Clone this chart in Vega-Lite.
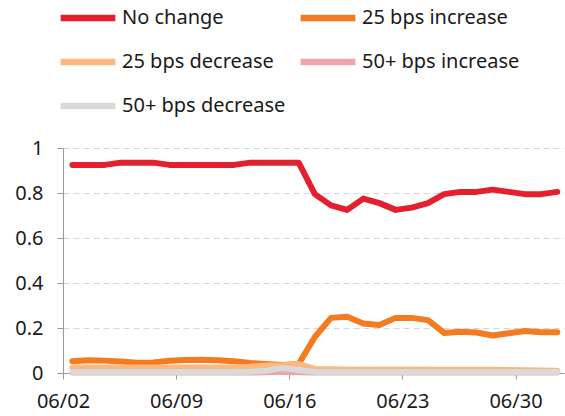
{
  "$schema": "https://vega.github.io/schema/vega-lite/v6.json",
  "autosize": {"type": "none"},
  "width": 501,
  "height": 225,
  "padding": {"left": 63, "top": 148, "right": 1, "bottom": 43},
  "background": "white",
  "config": {
    "view": {"stroke": null},
    "font": "Noto Sans",
    "axis": {"labelFont": "Noto Sans", "labelFontSize": 20, "labelColor": "#1a1a1a", "domainColor": "#999999", "tickColor": "#999999", "title": null},
    "legend": {"labelFont": "Noto Sans", "labelFontSize": 20, "labelColor": "#1a1a1a"}
  },
  "data": {"values": [
    {"date": "2024-06-02T14:00", "No change": 0.925, "25 bps increase": 0.052, "25 bps decrease": 0.024, "50+ bps increase": 0.002, "50+ bps decrease": 0.005},
    {"date": "2024-06-03T14:00", "No change": 0.925, "25 bps increase": 0.057, "25 bps decrease": 0.024, "50+ bps increase": 0.002, "50+ bps decrease": 0.005},
    {"date": "2024-06-04T14:00", "No change": 0.925, "25 bps increase": 0.055, "25 bps decrease": 0.024, "50+ bps increase": 0.002, "50+ bps decrease": 0.005},
    {"date": "2024-06-05T14:00", "No change": 0.935, "25 bps increase": 0.051, "25 bps decrease": 0.024, "50+ bps increase": 0.002, "50+ bps decrease": 0.005},
    {"date": "2024-06-06T14:00", "No change": 0.935, "25 bps increase": 0.046, "25 bps decrease": 0.024, "50+ bps increase": 0.002, "50+ bps decrease": 0.005},
    {"date": "2024-06-07T14:00", "No change": 0.935, "25 bps increase": 0.047, "25 bps decrease": 0.024, "50+ bps increase": 0.002, "50+ bps decrease": 0.005},
    {"date": "2024-06-08T14:00", "No change": 0.925, "25 bps increase": 0.054, "25 bps decrease": 0.024, "50+ bps increase": 0.002, "50+ bps decrease": 0.005},
    {"date": "2024-06-09T14:00", "No change": 0.925, "25 bps increase": 0.058, "25 bps decrease": 0.024, "50+ bps increase": 0.002, "50+ bps decrease": 0.005},
    {"date": "2024-06-10T14:00", "No change": 0.925, "25 bps increase": 0.059, "25 bps decrease": 0.024, "50+ bps increase": 0.002, "50+ bps decrease": 0.005},
    {"date": "2024-06-11T14:00", "No change": 0.925, "25 bps increase": 0.057, "25 bps decrease": 0.024, "50+ bps increase": 0.002, "50+ bps decrease": 0.005},
    {"date": "2024-06-12T14:00", "No change": 0.925, "25 bps increase": 0.052, "25 bps decrease": 0.025, "50+ bps increase": 0.002, "50+ bps decrease": 0.005},
    {"date": "2024-06-13T14:00", "No change": 0.935, "25 bps increase": 0.045, "25 bps decrease": 0.028, "50+ bps increase": 0.002, "50+ bps decrease": 0.006},
    {"date": "2024-06-14T14:00", "No change": 0.935, "25 bps increase": 0.040, "25 bps decrease": 0.033, "50+ bps increase": 0.003, "50+ bps decrease": 0.010},
    {"date": "2024-06-15T14:00", "No change": 0.935, "25 bps increase": 0.036, "25 bps decrease": 0.035, "50+ bps increase": 0.006, "50+ bps decrease": 0.022},
    {"date": "2024-06-16T14:00", "No change": 0.935, "25 bps increase": 0.040, "25 bps decrease": 0.040, "50+ bps increase": 0.003, "50+ bps decrease": 0.012},
    {"date": "2024-06-17T14:00", "No change": 0.795, "25 bps increase": 0.160, "25 bps decrease": 0.018, "50+ bps increase": 0.002, "50+ bps decrease": 0.005},
    {"date": "2024-06-18T14:00", "No change": 0.745, "25 bps increase": 0.245, "25 bps decrease": 0.017, "50+ bps increase": 0.002, "50+ bps decrease": 0.005},
    {"date": "2024-06-19T14:00", "No change": 0.725, "25 bps increase": 0.250, "25 bps decrease": 0.016, "50+ bps increase": 0.002, "50+ bps decrease": 0.005},
    {"date": "2024-06-20T14:00", "No change": 0.775, "25 bps increase": 0.220, "25 bps decrease": 0.015, "50+ bps increase": 0.002, "50+ bps decrease": 0.005},
    {"date": "2024-06-21T14:00", "No change": 0.755, "25 bps increase": 0.213, "25 bps decrease": 0.016, "50+ bps increase": 0.002, "50+ bps decrease": 0.005},
    {"date": "2024-06-22T14:00", "No change": 0.725, "25 bps increase": 0.245, "25 bps decrease": 0.016, "50+ bps increase": 0.002, "50+ bps decrease": 0.005},
    {"date": "2024-06-23T14:00", "No change": 0.735, "25 bps increase": 0.245, "25 bps decrease": 0.016, "50+ bps increase": 0.002, "50+ bps decrease": 0.005},
    {"date": "2024-06-24T14:00", "No change": 0.755, "25 bps increase": 0.235, "25 bps decrease": 0.015, "50+ bps increase": 0.002, "50+ bps decrease": 0.005},
    {"date": "2024-06-25T14:00", "No change": 0.795, "25 bps increase": 0.178, "25 bps decrease": 0.014, "50+ bps increase": 0.002, "50+ bps decrease": 0.005},
    {"date": "2024-06-26T14:00", "No change": 0.805, "25 bps increase": 0.183, "25 bps decrease": 0.014, "50+ bps increase": 0.002, "50+ bps decrease": 0.005},
    {"date": "2024-06-27T14:00", "No change": 0.805, "25 bps increase": 0.180, "25 bps decrease": 0.015, "50+ bps increase": 0.002, "50+ bps decrease": 0.005},
    {"date": "2024-06-28T14:00", "No change": 0.815, "25 bps increase": 0.167, "25 bps decrease": 0.014, "50+ bps increase": 0.002, "50+ bps decrease": 0.005},
    {"date": "2024-06-29T14:00", "No change": 0.805, "25 bps increase": 0.177, "25 bps decrease": 0.013, "50+ bps increase": 0.002, "50+ bps decrease": 0.004},
    {"date": "2024-06-30T14:00", "No change": 0.795, "25 bps increase": 0.187, "25 bps decrease": 0.012, "50+ bps increase": 0.002, "50+ bps decrease": 0.004},
    {"date": "2024-07-01T14:00", "No change": 0.795, "25 bps increase": 0.181, "25 bps decrease": 0.011, "50+ bps increase": 0.002, "50+ bps decrease": 0.004},
    {"date": "2024-07-02T14:00", "No change": 0.805, "25 bps increase": 0.181, "25 bps decrease": 0.010, "50+ bps increase": 0.002, "50+ bps decrease": 0.004}
  ]},
  "transform": [
    {"fold": ["No change", "25 bps increase", "25 bps decrease", "50+ bps increase", "50+ bps decrease"], "as": ["series", "value"]}
  ],
  "mark": {"type": "line", "strokeWidth": 6, "strokeCap": "round", "strokeJoin": "round"},
  "encoding": {
    "x": {
      "field": "date", "type": "temporal",
      "scale": {"domain": [{"year": 2024, "month": 6, "date": 2}, {"year": 2024, "month": 7, "date": 3}]},
      "axis": {
        "values": [{"year": 2024, "month": 6, "date": 2}, {"year": 2024, "month": 6, "date": 9}, {"year": 2024, "month": 6, "date": 16}, {"year": 2024, "month": 6, "date": 23}, {"year": 2024, "month": 6, "date": 30}],
        "format": "%m/%d", "grid": false, "tickSize": 6, "labelPadding": 12, "labelFlush": false
      }
    },
    "y": {
      "field": "value", "type": "quantitative",
      "scale": {"domain": [0, 1], "nice": false},
      "axis": {
        "values": [0, 0.2, 0.4, 0.6, 0.8, 1], "format": ".1~f",
        "grid": true, "gridColor": "#d6d6d6", "gridDash": [6, 4], "tickSize": 6, "labelPadding": 14
      }
    },
    "color": {
      "field": "series", "type": "nominal",
      "scale": {
        "domain": ["No change", "25 bps increase", "25 bps decrease", "50+ bps increase", "50+ bps decrease"],
        "range": ["#e5202e", "#f47b20", "#fdb97d", "#eda5a8", "#d9d9d9"]
      },
      "legend": {
        "title": null, "orient": "none", "legendX": -6, "legendY": -161,
        "direction": "horizontal", "columns": 2, "symbolType": "stroke", "symbolSize": 3000, "symbolStrokeWidth": 6.5,
        "labelOffset": 3, "labelLimit": 300, "columnPadding": 1, "rowPadding": 0
      }
    }
  }
}
